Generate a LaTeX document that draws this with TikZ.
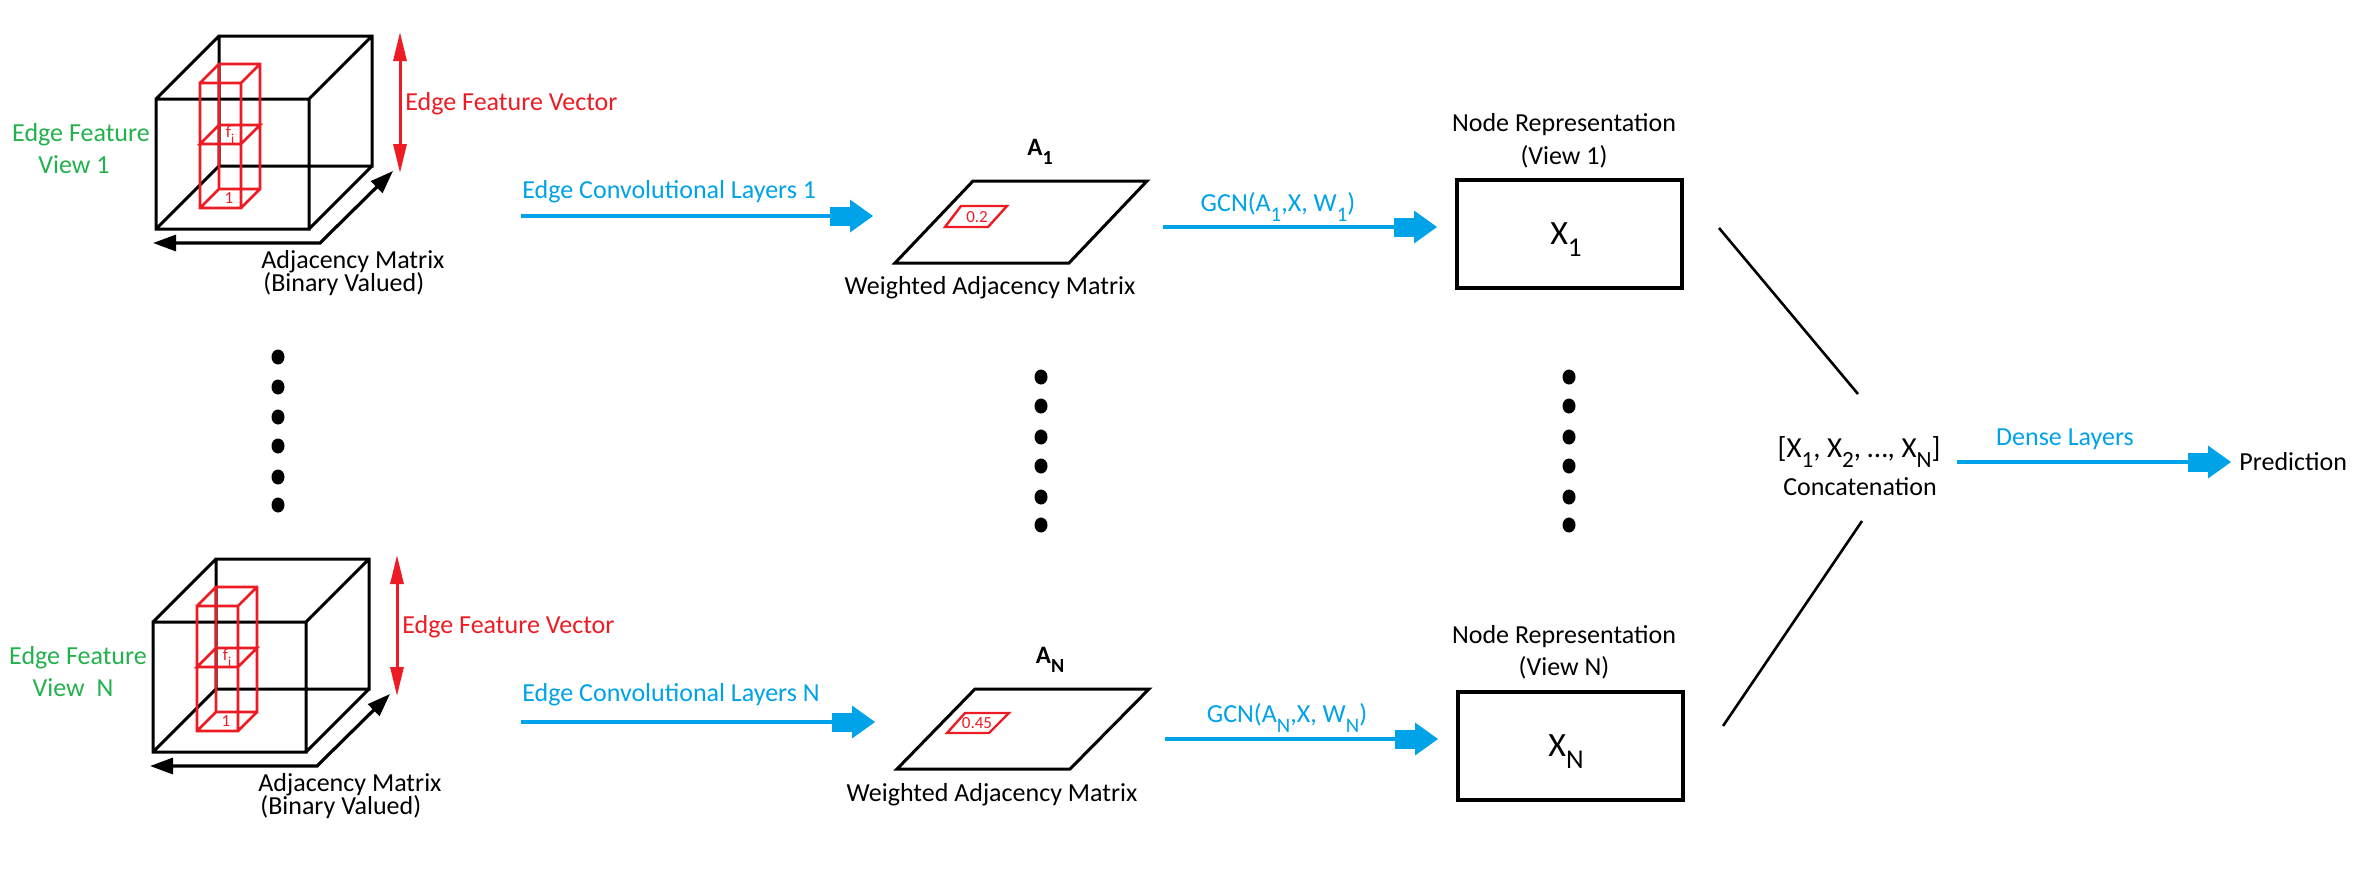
\documentclass[tikz,border=0pt]{standalone}
\usepackage{fontspec}
\setmainfont{Carlito}
\usepackage{graphicx}
\usetikzlibrary{arrows.meta}
\definecolor{pblue}{RGB}{0,162,232}
\definecolor{pred}{RGB}{237,28,36}
\definecolor{pgreen}{RGB}{34,177,76}
\newcommand{\lsub}[1]{\raisebox{-0.35em}{\scalebox{0.8}{#1}}}
\newcommand{\BlueHead}[1]{%
  \fill[pblue] ([shift={(-43,-9.5)}]#1) rectangle ([shift={(-22,9.5)}]#1);
  \fill[pblue] ([shift={(-23,-16.5)}]#1) -- (#1) -- ([shift={(-23,16.5)}]#1) -- cycle;}
\begin{document}
\begin{tikzpicture}[x=0.5pt,y=-0.5pt,
  every node/.style={inner sep=0pt},
  lbl/.style={font=\fontsize{13}{15}\selectfont},
  small/.style={font=\fontsize{8.5}{10}\selectfont, text=pred},
  cubeline/.style={line width=1.5pt, line join=miter},
  redline/.style={pred, line width=1.4pt},
  blueline/.style={pblue, line width=2pt},
  blk/.style={line width=1.6pt, {Triangle[length=11.5pt,width=8pt]}-{Triangle[length=11.5pt,width=8pt]}},
  redarr/.style={pred, line width=1.5pt, {Triangle[length=14.5pt,width=6.5pt]}-{Triangle[length=14.5pt,width=6.5pt]}},
  mat/.style={line width=1.5pt, line join=miter},
  smallmat/.style={pred, line width=1.2pt, line join=miter},
  boxs/.style={draw, line width=1.7pt, minimum width=112.5pt, minimum height=54pt},
  big/.style={font=\fontsize{17}{20}\selectfont},
  alab/.style={font=\bfseries\fontsize{12.5}{15}\selectfont},
  dot/.style={fill=black},
]
\fill[white] (0,0) rectangle (2355,874);
\useasboundingbox (0,0) rectangle (2355,874);

% ---------- Row 1: cube ----------
\begin{scope}
\draw[cubeline] (156,99) rectangle (309,229) (219,36) rectangle (372,166)
  (156,99)--(219,36) (309,99)--(372,36) (309,229)--(372,166) (156,229)--(219,166);
\draw[redline] (200,83) rectangle (241,208) (219,64) rectangle (260,189)
  (200,83)--(219,64) (241,83)--(260,64) (241,208)--(260,189) (200,208)--(219,189)
  (200,144)--(241,144)--(260,125)--(219,125)--cycle;
\node[small] (fi1) at (230,135) {f\lsub{i}};
\node[small] (one1) at (229,198) {1};
\coordinate (ra1) at (400,32); \coordinate (rb1) at (400,173);
\draw[redarr] (ra1) -- (rb1);
\node[lbl, text=pred, anchor=west] (efv1) at (405,104) {Edge Feature Vector};
\node[lbl, text=pgreen] (ef1) at (81,135) {Edge Feature};
\node[lbl, text=pgreen] (v1) at (74,165) {View 1};
\coordinate (cl1) at (153,243); \coordinate (cc1) at (320,243); \coordinate (cd1) at (393,171);
\draw[blk] (cl1) -- (cc1) -- (cd1);
\node[lbl, anchor=west] (adja1) at (261,262) {Adjacency Matrix};
\node[lbl, anchor=west] (adjb1) at (263,284) {(Binary Valued)};
\end{scope}

% ---------- Row N: cube ----------
\begin{scope}[shift={(-3,523)}]
\draw[cubeline] (156,99) rectangle (309,229) (219,36) rectangle (372,166)
  (156,99)--(219,36) (309,99)--(372,36) (309,229)--(372,166) (156,229)--(219,166);
\draw[redline] (200,83) rectangle (241,208) (219,64) rectangle (260,189)
  (200,83)--(219,64) (241,83)--(260,64) (241,208)--(260,189) (200,208)--(219,189)
  (200,144)--(241,144)--(260,125)--(219,125)--cycle;
\node[small] (fiN) at (230,135) {f\lsub{i}};
\node[small] (oneN) at (229,198) {1};
\coordinate (raN) at (400,32); \coordinate (rbN) at (400,173);
\draw[redarr] (raN) -- (rbN);
\node[lbl, text=pred, anchor=west] (efvN) at (405,104) {Edge Feature Vector};
\node[lbl, text=pgreen] (efN) at (81,135) {Edge Feature};
\node[lbl, text=pgreen] (vN) at (76,165) {View\ \ N};
\coordinate (clN) at (153,243); \coordinate (ccN) at (320,243); \coordinate (cdN) at (393,171);
\draw[blk] (clN) -- (ccN) -- (cdN);
\node[lbl, anchor=west] (adjaN) at (261,262) {Adjacency Matrix};
\node[lbl, anchor=west] (adjbN) at (263,284) {(Binary Valued)};
\end{scope}

% ---------- Edge convolution arrows ----------
\node[lbl, text=pblue, anchor=west] (ec1) at (522,192) {Edge Convolutional Layers 1};
\coordinate (es1) at (521,216); \coordinate (et1) at (873,216);
\draw[blueline] (es1) -- ([shift={(-40,0)}]et1);
\BlueHead{et1}
\node[lbl, text=pblue, anchor=west] (ecN) at (522,695) {Edge Convolutional Layers N};
\coordinate (esN) at (521,722); \coordinate (etN) at (875,722);
\draw[blueline] (esN) -- ([shift={(-40,0)}]etN);
\BlueHead{etN}

% ---------- Weighted adjacency matrices ----------
\draw[mat] (895,263) -- (1069,263) -- (1147,181) -- (973,181) -- cycle;
\draw[smallmat] (945,227) -- (988,227) -- (1007,206) -- (961,206) -- cycle;
\node[small] (w1) at (977,217) {0.2};
\node[alab] (A1) at (1040,152) {A\lsub{1}};
\node[lbl] (wam1) at (990,288) {Weighted Adjacency Matrix};

\draw[mat] (897,769) -- (1070,769) -- (1149,689) -- (975,689) -- cycle;
\draw[smallmat] (947,733) -- (989,733) -- (1009,713) -- (965,713) -- cycle;
\node[small] (wN) at (977,723) {0.45};
\node[alab] (AN) at (1050,660) {A\lsub{N}};
\node[lbl] (wamN) at (992,795) {Weighted Adjacency Matrix};

% ---------- GCN arrows ----------
\node[lbl, text=pblue] (gcn1) at (1278,207) {GCN(A\lsub{1},X, W\lsub{1})};
\coordinate (gs1) at (1163,227); \coordinate (gt1) at (1437,227);
\draw[blueline] (gs1) -- ([shift={(-40,0)}]gt1);
\BlueHead{gt1}
\node[lbl, text=pblue] (gcnN) at (1287,718) {GCN(A\lsub{N},X, W\lsub{N})};
\coordinate (gsN) at (1165,739); \coordinate (gtN) at (1438,739);
\draw[blueline] (gsN) -- ([shift={(-40,0)}]gtN);
\BlueHead{gtN}

% ---------- Node representations ----------
\node[lbl] (nr1) at (1564,125) {Node Representation};
\node[lbl] (nv1) at (1564,157) {(View 1)};
\node[boxs] (box1) at (1569.5,234) {};
\node[big] (x1) at (1566,240) {X\lsub{1}};
\node[lbl] (nrN) at (1564,637) {Node Representation};
\node[lbl] (nvN) at (1564,668) {(View N)};
\node[boxs] (boxN) at (1570.5,746) {};
\node[big] (xN) at (1566,752) {X\lsub{N}};

% ---------- Dots ----------
\foreach \yy in {357,387,417,446,477,505} \fill[dot] (278,\yy) ellipse [x radius=3.25pt, y radius=3.75pt];
\foreach \yy in {377,406,437,466,497,525} {
  \fill[dot] (1041,\yy) ellipse [x radius=3.25pt, y radius=3.75pt];
  \fill[dot] (1569,\yy) ellipse [x radius=3.25pt, y radius=3.75pt];
}

% ---------- Concatenation ----------
\coordinate (c1a) at (1719,228); \coordinate (c1b) at (1858,394);
\coordinate (cNa) at (1723,726); \coordinate (cNb) at (1862,521);
\draw[line width=1.3pt] (c1a) -- (c1b);
\draw[line width=1.3pt] (cNa) -- (cNb);
\node[font=\fontsize{14.5}{17}\selectfont] (cat) at (1859,452) {[X\lsub{1}, X\lsub{2}, …, X\lsub{N}]};
\node[lbl] (concat) at (1860,487) {Concatenation};

% ---------- Dense layers ----------
\node[lbl, text=pblue] (dense) at (2065,439) {Dense Layers};
\coordinate (ds) at (1957,462); \coordinate (dt) at (2231,462);
\draw[blueline] (ds) -- ([shift={(-40,0)}]dt);
\BlueHead{dt}
\node[lbl, anchor=west] (predn) at (2239,462) {Prediction};
\end{tikzpicture}
\end{document}
